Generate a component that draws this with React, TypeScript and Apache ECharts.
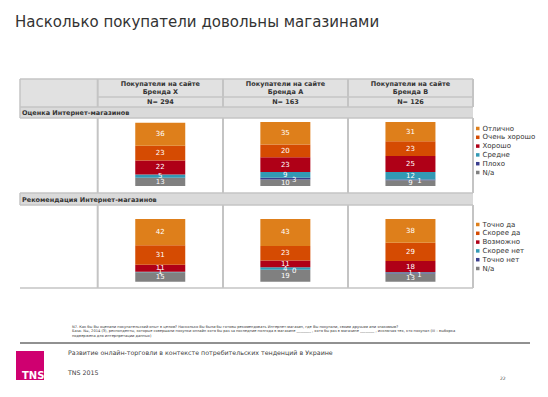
import React, { useEffect, useRef } from "react";
import * as echarts from "echarts";

const brandTitles = ["Бренда X", "Бренда А", "Бренда В"];
const sampleSizes = [294, 163, 126];
const sectionTitles = ["Оценка Интернет-магазинов", "Рекомендация Интернет-магазинов"];

const ratingNames = ["Отлично", "Очень хорошо", "Хорошо", "Средне", "Плохо", "N/a"];
const ratingExcellent = [36, 35, 31];
const ratingVeryGood = [23, 20, 23];
const ratingGood = [22, 23, 25];
const ratingAverage = [5, 9, 12];
const ratingBad = [null, 3, 1];
const ratingNA = [13, 10, 9];

const recommendNames = ["Точно да", "Скорее да", "Возможно", "Скорее нет", "Точно нет", "N/a"];
const recDefinitely = [42, 43, 38];
const recProbably = [31, 23, 29];
const recMaybe = [11, 11, 18];
const recProbablyNot = [1, 4, 1];
const recDefinitelyNot = [null, 0, 1];
const recNA = [15, 19, 13];

const colors = ["#DE7F1B", "#D54B02", "#AF0017", "#3399B4", "#3A3E8E", "#808080"];

const FONT = "DejaVu Sans";

export default function App() {
  const ref = useRef<HTMLDivElement>(null);
  useEffect(() => {
    if (!ref.current) return;
    const chart = echarts.init(ref.current, null, { renderer: "svg" });

    const rowData = [
      [ratingExcellent, ratingVeryGood, ratingGood, ratingAverage, ratingBad, ratingNA],
      [recDefinitely, recProbably, recMaybe, recProbablyNot, recDefinitelyNot, recNA],
    ];
    const rowNames = [ratingNames, recommendNames];

    const series: any[] = [];
    rowData.forEach((row, r) => {
      for (let i = row.length - 1; i >= 0; i--) {
        series.push({
          type: "bar",
          name: rowNames[r][i],
          stack: "row" + r,
          xAxisIndex: r,
          yAxisIndex: r,
          barWidth: 50,
          data: row[i],
          itemStyle: { color: colors[i] },
          label: {
            show: true,
            position: "inside",
            color: "#ffffff",
            fontSize: 7,
            fontFamily: FONT,
            offset: i === 4 ? [9, 1.5] : [0, 0],
          },
        });
      }
    });

    const colX = [97.7, 223, 348, 473];
    const left = 20;
    const right = 473;
    const lineColor = "#c4c4c4";
    const fill = "#e1e1e1";

    const g: any[] = [];
    g.push({ type: "rect", shape: { x: left, y: 79, width: right - left, height: 28 }, style: { fill } });
    g.push({ type: "rect", shape: { x: left, y: 107, width: right - left, height: 11 }, style: { fill: "#dadada" } });
    g.push({ type: "rect", shape: { x: left, y: 193, width: right - left, height: 12 }, style: { fill: "#dadada" } });
    const hLines: [number, number, number][] = [
      [left, right, 79],
      [colX[0], right, 97],
      [left, right, 107],
      [left, right, 118],
      [left, right, 193],
      [left, right, 205],
      [left, right, 288],
    ];
    hLines.forEach(([x1, x2, y]) =>
      g.push({ type: "line", shape: { x1, y1: y, x2, y2: y }, style: { stroke: lineColor, lineWidth: 1.5 } })
    );
    const vSpans: [number, number][] = [
      [79, 107],
      [118, 193],
      [205, 288],
    ];
    colX.forEach((x) =>
      vSpans.forEach(([y1, y2]) =>
        g.push({ type: "line", shape: { x1: x, y1, x2: x, y2 }, style: { stroke: lineColor, lineWidth: 2 } })
      )
    );
    g.push({ type: "line", shape: { x1: left, y1: 79, x2: left, y2: 118 }, style: { stroke: lineColor, lineWidth: 1.5 } });
    g.push({ type: "line", shape: { x1: left, y1: 193, x2: left, y2: 205 }, style: { stroke: lineColor, lineWidth: 1.5 } });

    brandTitles.forEach((b, i) => {
      const cx = (colX[i] + colX[i + 1]) / 2;
      g.push({
        type: "text",
        x: cx,
        y: 88,
        style: {
          text: "Покупатели на сайте\n" + b,
          fill: "#333",
          font: `bold 6.5px "${FONT}"`,
          textAlign: "center",
          textVerticalAlign: "middle",
          lineHeight: 8,
        },
      });
      g.push({
        type: "text",
        x: cx,
        y: 102,
        style: {
          text: "N= " + sampleSizes[i],
          fill: "#333",
          font: `bold 6.5px "${FONT}"`,
          textAlign: "center",
          textVerticalAlign: "middle",
        },
      });
    });
    g.push({
      type: "text",
      x: 22,
      y: 112.5,
      style: { text: sectionTitles[0], fill: "#333", font: `bold 6.5px "${FONT}"`, textVerticalAlign: "middle" },
    });
    g.push({
      type: "text",
      x: 22,
      y: 199.5,
      style: { text: sectionTitles[1], fill: "#333", font: `bold 6.5px "${FONT}"`, textVerticalAlign: "middle" },
    });

    g.push({
      type: "text",
      x: 15,
      y: 22,
      style: { text: "Насколько покупатели довольны магазинами", fill: "#333", font: `15px "${FONT}"`, textVerticalAlign: "middle" },
    });

    const note = [
      "N7. Как бы Вы оценили покупательский опыт в целом? Насколько Вы были бы готовы рекомендовать Интернет-магазин, где Вы покупали, своим друзьям или знакомым?",
      "База: N=, 2014 (3), респонденты, которые совершали покупки онлайн хотя бы раз за последние полгода в магазине ________ , хотя бы раз в магазине ________ , исключая тех, кто покупал (III – выборка",
      "подвержена для интерпретации данных)",
    ];
    note.forEach((t, i) =>
      g.push({
        type: "text",
        x: 72,
        y: 327 + i * 4.3,
        style: { text: t, fill: "#333", font: `3.6px "${FONT}"`, textVerticalAlign: "middle" },
      })
    );
    g.push({ type: "line", shape: { x1: 20, y1: 343, x2: 530, y2: 343 }, style: { stroke: "#222", lineWidth: 1 } });

    g.push({ type: "rect", shape: { x: 16, y: 351, width: 28, height: 29 }, style: { fill: "#CF0070" } });
    g.push({
      type: "text",
      x: 22,
      y: 375,
      style: { text: "TNS", fill: "#fff", font: `bold 10px "${FONT}"`, textVerticalAlign: "middle" },
    });
    g.push({
      type: "text",
      x: 68,
      y: 352,
      style: {
        text: "Развитие онлайн-торговли в контексте потребительских тенденций в Украине",
        fill: "#404040",
        font: `6.3px "${FONT}"`,
        textVerticalAlign: "middle",
      },
    });
    g.push({
      type: "text",
      x: 68,
      y: 372,
      style: { text: "TNS 2015", fill: "#404040", font: `6.3px "${FONT}"`, textVerticalAlign: "middle" },
    });
    g.push({
      type: "text",
      x: 500,
      y: 378,
      style: { text: "22", fill: "#404040", font: `4.5px "${FONT}"`, textVerticalAlign: "middle" },
    });

    const legendCommon = {
      orient: "vertical",
      left: 476,
      icon: "rect",
      itemWidth: 3.5,
      itemHeight: 3.5,
      itemGap: 1.8,
      padding: 0,
      selectedMode: false,
      textStyle: { fontSize: 7, fontFamily: FONT, color: "#333", padding: [0, 0, 0, -2] },
    };

    chart.setOption({
      animation: false,
      backgroundColor: "#ffffff",
      grid: [
        { left: colX[0], width: right - colX[0], top: 122, height: 64 },
        { left: colX[0], width: right - colX[0], top: 219, height: 62.7 },
      ],
      xAxis: [0, 1].map((i) => ({
        type: "category",
        gridIndex: i,
        data: brandTitles,
        show: false,
      })),
      yAxis: [0, 1].map((i) => ({
        type: "value",
        gridIndex: i,
        min: 0,
        max: 100,
        show: false,
      })),
      legend: [
        { ...legendCommon, top: 125, data: ratingNames },
        { ...legendCommon, top: 221, data: recommendNames },
      ],
      graphic: { elements: g },
      series,
    });

    return () => chart.dispose();
  }, []);

  return (
    <div
      ref={ref}
      style={{ position: "absolute", left: 0, top: 0, width: 548, height: 397 }}
    />
  );
}
